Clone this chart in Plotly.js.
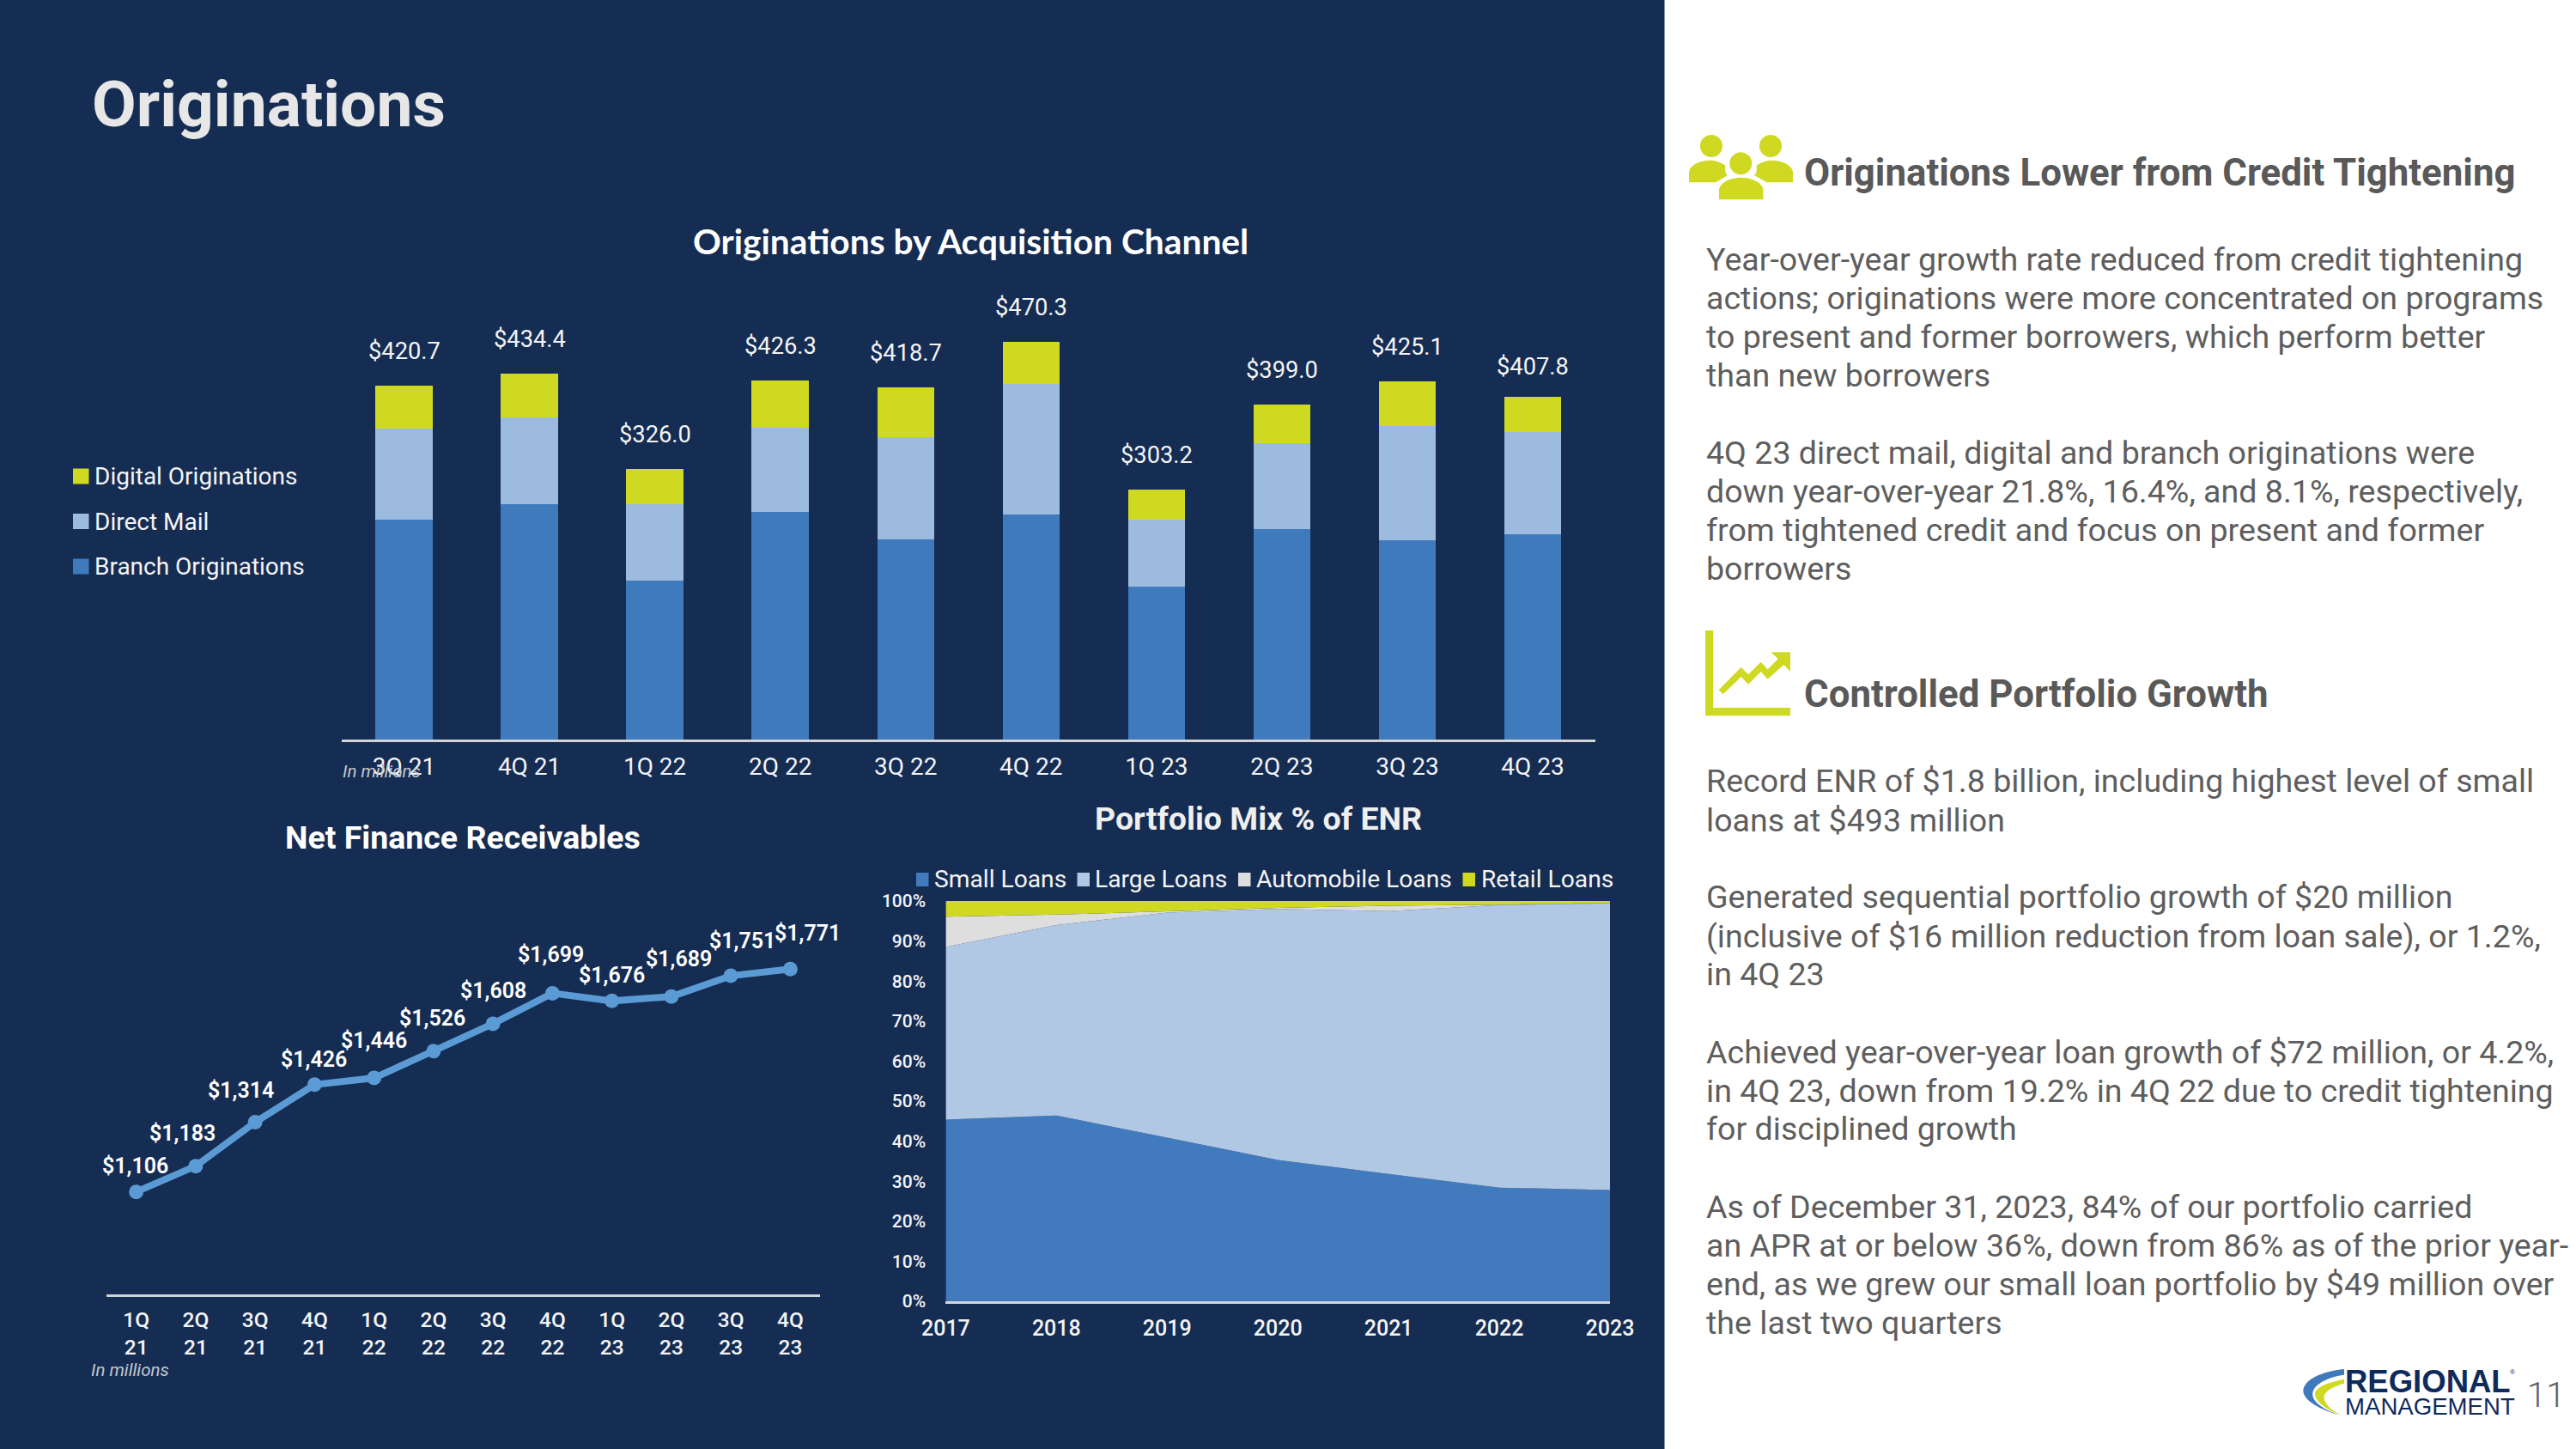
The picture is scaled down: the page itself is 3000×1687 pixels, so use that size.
<!DOCTYPE html>
<html>
<head>
<meta charset="utf-8">
<script src="https://cdn.plot.ly/plotly-3.0.1.min.js"></script>
<style>html,body{margin:0;padding:0;background:#fff}#chart{width:3000px;height:1687px}</style>
</head>
<body>
<div id="chart"></div>
<script>
// ---------- data ----------
const barQuarters = ['3Q 21','4Q 21','1Q 22','2Q 22','3Q 22','4Q 22','1Q 23','2Q 23','3Q 23','4Q 23'];
const branchOriginations = [261,280,188.5,270,237.6,267,181.4,250,236.3,243.8];
const directMail = [108.8,103,90.7,100,121.7,155.3,79.6,102.2,135.8,121.2];
const digitalOriginations = [50.4,51.3,42,56.6,58.8,50,36.3,45.6,53.1,42];
const barTotals = [420.7,434.4,326.0,426.3,418.7,470.3,303.2,399.0,425.1,407.8];

const lineQuarters = ['1Q 21','2Q 21','3Q 21','4Q 21','1Q 22','2Q 22','3Q 22','4Q 22','1Q 23','2Q 23','3Q 23','4Q 23'];
const netFinanceReceivables = [1106,1183,1314,1426,1446,1526,1608,1699,1676,1689,1751,1771];

const mixYears = [2017,2018,2019,2020,2021,2022,2023];
const smallLoans = [45.4,46.4,40.9,35.3,31.8,28.4,27.8];
const largeLoans = [43.1,47.6,56.2,62.7,65.7,70.6,71.6];
const automobileLoans = [7.6,2.6,0.3,0.3,1.3,0.1,0.1];
const retailLoans = [3.9,3.4,2.6,1.7,1.2,0.9,0.5];
const mixTicks = [0,10,20,30,40,50,60,70,80,90,100];

const slideTitle = 'Originations';
const heading1 = 'Originations Lower from Credit Tightening';
const heading2 = 'Controlled Portfolio Growth';
const bodyBlock1 = ['Year-over-year growth rate reduced from credit tightening','actions; originations were more concentrated on programs','to present and former borrowers, which perform better','than new borrowers'];
const bodyBlock2 = ['4Q 23 direct mail, digital and branch originations were','down year-over-year 21.8%, 16.4%, and 8.1%, respectively,','from tightened credit and focus on present and former','borrowers'];
const bodyBlock3 = ['Record ENR of $1.8 billion, including highest level of small','loans at $493 million'];
const bodyBlock4 = ['Generated sequential portfolio growth of $20 million','(inclusive of $16 million reduction from loan sale), or 1.2%,','in 4Q 23'];
const bodyBlock5 = ['Achieved year-over-year loan growth of $72 million, or 4.2%,','in 4Q 23, down from 19.2% in 4Q 22 due to credit tightening','for disciplined growth'];
const bodyBlock6 = ['As of December 31, 2023, 84% of our portfolio carried','an APR at or below 36%, down from 86% as of the prior year-','end, as we grew our small loan portfolio by $49 million over','the last two quarters'];

// ---------- page geometry and styles ----------
const W = 3000, H = 1687;
const px = x => x / W, py = y => 1 - y / H;
const NAVY = '#152D53', BLUE = '#3F7ABC', MAIL = '#9DBBDE', LIME = '#CFD922', LINE = '#5B9BD5', TXT = '#F4F4F4', GREY = '#5E5E5E', AXIS = '#D0D3D8';
const FONT = 'Roboto';

const annotations = [];
const shapes = [];
function text(t, x, y, size, color, opts) {
  opts = opts || {};
  annotations.push({ text: t, xref: 'paper', yref: 'paper', x: px(x), y: py(y), showarrow: false,
    xanchor: opts.anchor || 'left', yanchor: 'middle', borderpad: 0, borderwidth: 0,
    font: { family: opts.family || FONT, size: size, color: color, weight: opts.weight || 400 } });
}
function toPaperPath(d, ox, oy, k) {
  let isX = true;
  return d.replace(/-?\d+(\.\d+)?/g, n => {
    const v = parseFloat(n);
    const r = isX ? px(ox + v * k) : py(oy + v * k);
    isX = !isX;
    return r.toFixed(6);
  });
}
function pathShape(d, ox, oy, k, color) {
  shapes.push({ type: 'path', xref: 'paper', yref: 'paper', path: toPaperPath(d, ox, oy, k), fillcolor: color, line: { width: 0 }, layer: 'above' });
}
function rect(x0, y0, x1, y1, color, layer) {
  shapes.push({ type: 'rect', xref: 'paper', yref: 'paper', x0: px(x0), x1: px(x1), y0: py(y0), y1: py(y1), fillcolor: color, line: { width: 0 }, layer: layer || 'above' });
}
function circle(cx, cy, r, color) {
  shapes.push({ type: 'circle', xref: 'paper', yref: 'paper', x0: px(cx - r), x1: px(cx + r), y0: py(cy - r), y1: py(cy + r), fillcolor: color, line: { width: 0 }, layer: 'above' });
}

// white right-hand panel
rect(1938.5, 0, 3000, 1687, '#FFFFFF', 'below');

// ---------- traces ----------
const barSpec = [['Branch Originations', branchOriginations, BLUE], ['Direct Mail', directMail, MAIL], ['Digital Originations', digitalOriginations, LIME]];
const mixSpec = [['Small Loans', smallLoans, '#417BBE'], ['Large Loans', largeLoans, '#B0C8E4'], ['Automobile Loans', automobileLoans, '#DEDEDE'], ['Retail Loans', retailLoans, '#CFD922']];

const traces = [];
barSpec.forEach(s => traces.push({ type: 'bar', name: s[0], x: barQuarters, y: s[1], marker: { color: s[2], line: { width: 0 } }, xaxis: 'x', yaxis: 'y', showlegend: false, hoverinfo: 'skip' }));
traces.push({ type: 'scatter', mode: 'lines+markers', name: 'Net Finance Receivables', x: lineQuarters, y: netFinanceReceivables,
  line: { color: LINE, width: 8 }, marker: { color: LINE, size: 17 }, xaxis: 'x2', yaxis: 'y2', showlegend: false, hoverinfo: 'skip' });
mixSpec.forEach(s => traces.push({ type: 'scatter', mode: 'none', name: s[0], x: mixYears, y: s[1], stackgroup: 'mix', fillcolor: s[2], xaxis: 'x3', yaxis: 'y3', showlegend: false, hoverinfo: 'skip' }));

// ---------- data labels ----------
const barLabelLift = [40,40,40,40,40,40,40,40,40,35];
barQuarters.forEach((q, i) => {
  annotations.push({ text: '$' + barTotals[i].toFixed(1), x: q, y: branchOriginations[i] + directMail[i] + digitalOriginations[i], xref: 'x', yref: 'y',
    showarrow: false, yanchor: 'middle', xanchor: 'center', yshift: barLabelLift[i], borderpad: 0, font: { family: FONT, size: 27.3, color: TXT } });
});
const lineLabelNudge = [[-1,30],[-15,38],[-16.5,37],[-1,29.5],[0,44],[-1,38],[0,38],[-2,45],[0,30],[9,44],[13,41],[20,41.5]];
lineQuarters.forEach((q, i) => {
  annotations.push({ text: '$' + netFinanceReceivables[i].toLocaleString('en-US'), x: q, y: netFinanceReceivables[i], xref: 'x2', yref: 'y2',
    showarrow: false, yanchor: 'middle', xanchor: 'center', xshift: lineLabelNudge[i][0], yshift: lineLabelNudge[i][1], borderpad: 0,
    font: { family: FONT, size: 25, color: '#FFFFFF', weight: 600 } });
});

// ---------- titles, notes ----------
text(slideTitle, 107, 121, 75, '#E7E7E7', { weight: 700 });
text('Originations by Acquisition Channel', 1130, 281, 40.7, '#FFFFFF', { anchor: 'center', family: 'Lato', weight: 700 });
text('Net Finance Receivables', 539, 975, 37.5, '#FFFFFF', { anchor: 'center', weight: 700 });
text('Portfolio Mix % of ENR', 1465, 953, 37.5, '#EFEFEF', { anchor: 'center', weight: 700 });
text('<i>In millions</i>', 399, 898, 20.5, '#C4C8D0');
text('<i>In millions</i>', 106, 1595, 20.5, '#C4C8D0');

// ---------- legends ----------
[['Digital Originations', LIME, 554.5], ['Direct Mail', MAIL, 607], ['Branch Originations', BLUE, 659.5]].forEach(l => {
  rect(85, l[2] - 9, 103.5, l[2] + 9, l[1]);
  text(l[0], 110, l[2], 28, TXT);
});
[[mixSpec[0], 1067, 1088], [mixSpec[1], 1254.5, 1275], [mixSpec[2], 1442, 1463], [mixSpec[3], 1703.5, 1724.5]].forEach(l => {
  rect(l[1], 1016, l[1] + 14.5, 1032, l[0][2]);
  text(l[0][0], l[2], 1024, 28.2, TXT);
});

// ---------- right panel text ----------
text(heading1, 2101, 201, 43.8, '#595959', { weight: 700 });
text(heading2, 2101, 808, 43.8, '#595959', { weight: 700 });
const BODY = 37.6;
function block(lines, ys) { lines.forEach((l, i) => text(l, 1987, ys[i], BODY, GREY, { weight: 400 })); }
block(bodyBlock1, [302, 347, 392, 437]);
block(bodyBlock2, [527, 572, 617, 662]);
block(bodyBlock3, [909, 955]);
block(bodyBlock4, [1044, 1090, 1134]);
block(bodyBlock5, [1225, 1270, 1314]);
block(bodyBlock6, [1405, 1450, 1495, 1540]);

// ---------- icons ----------
const k3 = 1 / 3;
circle(1993, 170, 13, LIME); circle(2062, 170, 13, LIME); circle(2027.3, 190.3, 13, LIME);
pathShape('M111 217 L111 180 C115 155 150 140 185 140 C205 140 225 148 238 158 C236 178 240 195 250 190 L205 217 Z', 1930, 140, k3, LIME);
pathShape('M474 217 L474 180 C470 155 435 140 400 140 C380 140 360 148 347 158 C349 178 345 195 335 190 L382 217 Z', 1930, 140, k3, LIME);
pathShape('M216 277 L216 240 C222 215 260 200 292 200 C325 200 365 215 370 240 L370 277 Z', 1930, 140, k3, LIME);
pathShape('M78 42 L105 42 L105 312 L375 312 L375 340 L78 340 Z', 1960, 720, k3, LIME);
pathShape('M125 250 L203 170 L228 196 L272 152 L296 178 L332 142 L308 118 L375 118 L375 186 L352 162 L296 212 L272 186 L228 230 L203 204 L140 265 Z', 1960, 720, k3, LIME);

// ---------- logo ----------
pathShape('M180 72 C100 80 36 110 37 150 C40 185 110 220 165 232 C110 215 65 185 70 155 C75 125 120 100 180 92 Z', 2670, 1570, k3, '#3F7ABC');
pathShape('M180 107 C120 120 78 135 78 160 C80 190 130 220 170 232 C140 220 105 190 110 165 C115 145 150 130 180 122 Z', 2670, 1570, k3, '#CFD922');
text('REGIONAL', 2731, 1608, 36.5, '#0F2B5B', { family: 'Liberation Sans', weight: 700 });
text('MANAGEMENT', 2731, 1637, 27.6, '#0F2B5B', { family: 'Liberation Sans' });
text('®', 2926, 1597, 8, '#0F2B5B', { family: 'Liberation Sans', anchor: 'center' });
text('11', 2943, 1624, 40, GREY, { weight: 300 });

// ---------- layout ----------
const layout = {
  width: W, height: H, margin: { l: 0, r: 0, t: 0, b: 0, pad: 0 },
  paper_bgcolor: NAVY, plot_bgcolor: 'rgba(0,0,0,0)',
  barmode: 'stack', bargap: 0.545, showlegend: false,
  annotations: annotations, shapes: shapes,
  xaxis: { domain: [px(397.5), px(1858)], anchor: 'y', type: 'category', range: [-0.5, 9.5], showline: true, linecolor: AXIS, linewidth: 3, showgrid: false, zeroline: false,
    ticks: 'outside', ticklen: 4, tickcolor: 'rgba(0,0,0,0)', tickfont: { family: FONT, size: 28, color: TXT } },
  yaxis: { domain: [py(861), py(371)], anchor: 'x', range: [0, 500], visible: false, showgrid: false, zeroline: false },
  xaxis2: { domain: [px(124), px(955)], anchor: 'y2', type: 'category', range: [-0.5, 11.5], showline: true, linecolor: AXIS, linewidth: 3, showgrid: false, zeroline: false,
    tickmode: 'array', tickvals: lineQuarters, ticktext: lineQuarters.map(q => q.replace(' ', '<br>')),
    ticks: 'outside', ticklen: 6, tickcolor: 'rgba(0,0,0,0)', tickfont: { family: FONT, size: 24.5, color: TXT, weight: 500 } },
  yaxis2: { domain: [py(1507), py(1078)], anchor: 'x2', range: [800, 1900], visible: false, showgrid: false, zeroline: false },
  xaxis3: { domain: [px(1101.4), px(1875)], anchor: 'y3', type: 'linear', range: [2017, 2023], tickmode: 'array', tickvals: mixYears, showline: true, linecolor: AXIS, linewidth: 3, showgrid: false, zeroline: false,
    ticks: 'outside', ticklen: 7, tickcolor: 'rgba(0,0,0,0)', tickfont: { family: FONT, size: 25, color: TXT, weight: 500 } },
  yaxis3: { domain: [py(1515), py(1049)], anchor: 'x3', range: [0, 100], tickmode: 'array', tickvals: mixTicks, ticktext: mixTicks.map(v => v + '%'), showgrid: false, zeroline: false, showline: false,
    ticks: 'outside', ticklen: 18, tickcolor: 'rgba(0,0,0,0)', tickfont: { family: FONT, size: 21, color: TXT, weight: 500 } }
};

Plotly.newPlot('chart', traces, layout, { displayModeBar: false, staticPlot: true });
</script>
</body>
</html>
